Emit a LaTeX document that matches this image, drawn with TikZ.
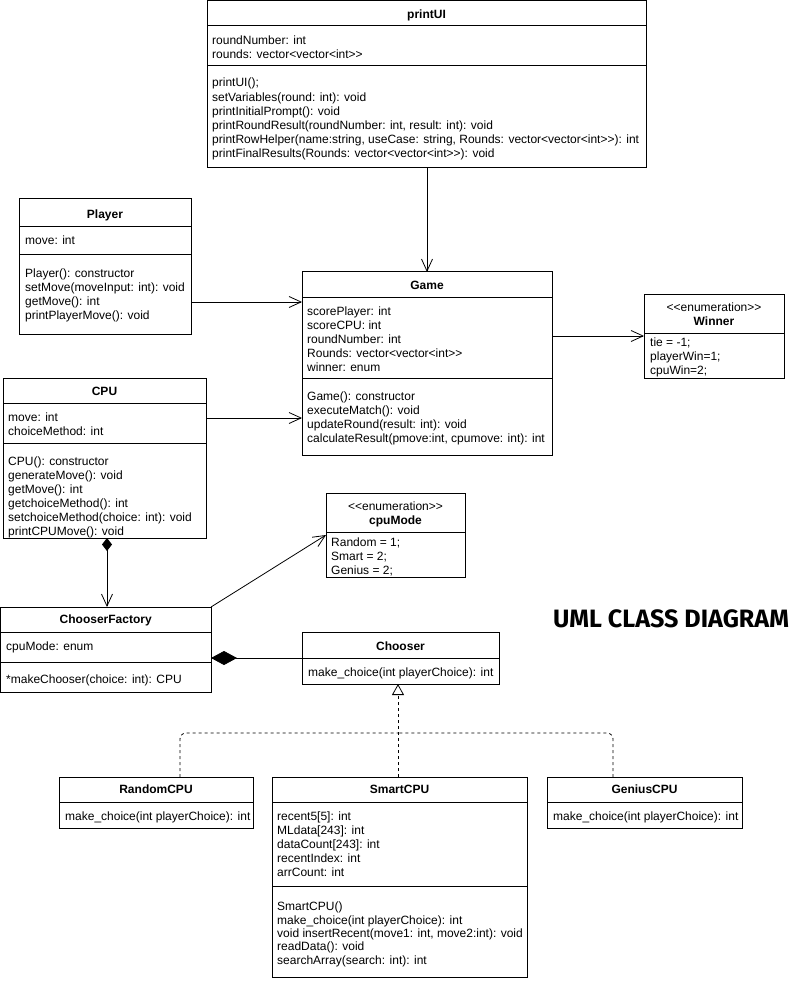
\documentclass[tikz,border=0pt]{standalone}
\usepackage{fontspec}
\setmainfont{Liberation Sans}
\newfontfamily\bannerfont{Fira Sans}
\usetikzlibrary{arrows.meta}
\newcommand\fl{\rule{0pt}{10pt}}
\newcommand\ltlt{<\kern0pt<}
\newcommand\gtgt{>\kern0pt>}
\tikzset{
  x=1pt, y=-1pt,
  box/.style={draw, line width=1pt, anchor=north west, inner sep=0pt, outer sep=0pt},
  ttl/.style={anchor=base, inner sep=0pt, font=\fontsize{12}{14}\selectfont\bfseries},
  ster/.style={anchor=base, inner sep=0pt, font=\fontsize{12}{14}\selectfont},
  lines/.style={anchor=north west, align=left, inner sep=0pt, font=\fontsize{12}{14.2}\selectfont},
  sepl/.style={line width=1pt},
  barb/.tip={Straight Barb[length=12pt,width=11pt,line width=0.8pt]},
  assoc/.style={line width=0.8pt, -barb},
  compsmall/.style={line width=0.8pt, {Diamond[length=13pt,width=10pt]}-barb},
  compbig/.style={line width=0.8pt, -{Diamond[length=26pt,width=14pt]}},
  dashline/.style={line width=0.8pt, dash pattern=on 3pt off 3pt, rounded corners=6pt},
  real/.style={line width=0.8pt, dash pattern=on 3pt off 3pt, -{Triangle[open,length=11pt,width=12pt,line width=0.8pt]}},
}
\begin{document}
\begin{tikzpicture}
\useasboundingbox (0,0) rectangle (794,981);
\fill[white] (0,0) rectangle (794,981);

% ---------- printUI ----------
\node[box, minimum width=439pt, minimum height=167pt] (printui) at (207,1) {};
\draw[sepl] (207,26) -- (646,26);
\draw[sepl] (207,66) -- (646,66);
\node[ttl] (printuiT) at (426.5,18.5) {printUI};
\node[lines] (printuiA) at (212,34.5) {\fl roundNumber: int\\rounds: vector<vector<int\gtgt};
\node[lines] (printuiM) at (212,76.8) {\fl printUI();\\setVariables(round: int): void\\printInitialPrompt(): void\\printRoundResult(roundNumber: int, result: int): void\\printRowHelper(name:string, useCase: string, Rounds: vector<vector<int\gtgt): int\\printFinalResults(Rounds: vector<vector<int\gtgt): void};

% ---------- Player ----------
\node[box, minimum width=172pt, minimum height=135pt] (player) at (19,199) {};
\draw[sepl] (19,227) -- (191,227);
\draw[sepl] (19,255) -- (191,255);
\node[ttl] (playerT) at (105,218.5) {Player};
\node[lines] (playerA) at (25,234.5) {\fl move: int};
\node[lines, font=\fontsize{12}{14}\selectfont] (playerM) at (25,267.5) {\fl Player(): constructor\\setMove(moveInput: int): void\\getMove(): int\\printPlayerMove(): void};

% ---------- CPU ----------
\node[box, minimum width=203pt, minimum height=160pt] (cpu) at (3,378) {};
\draw[sepl] (3,403) -- (206,403);
\draw[sepl] (3,443) -- (206,443);
\node[ttl] (cpuT) at (104.5,395.5) {CPU};
\node[lines, font=\fontsize{12}{14}\selectfont] (cpuA) at (8,411.2) {\fl move: int\\choiceMethod: int};
\node[lines, font=\fontsize{12}{13.95}\selectfont] (cpuM) at (8,455.5) {\fl CPU(): constructor\\generateMove(): void\\getMove(): int\\getchoiceMethod(): int\\setchoiceMethod(choice: int): void\\printCPUMove(): void};

% ---------- Game ----------
\node[box, minimum width=250pt, minimum height=183pt] (game) at (302,272) {};
\draw[sepl] (302,297) -- (552,297);
\draw[sepl] (302,378) -- (552,378);
\node[ttl] (gameT) at (427,289.5) {Game};
\node[lines, font=\fontsize{12}{14}\selectfont] (gameA) at (307,305.5) {\fl scorePlayer: int\\scoreCPU: int\\roundNumber: int\\Rounds: vector<vector<int\gtgt\\winner: enum};
\node[lines, font=\fontsize{12}{14}\selectfont] (gameM) at (307,390.5) {\fl Game(): constructor\\executeMatch(): void\\updateRound(result: int): void\\calculateResult(pmove:int, cpumove: int): int};

% ---------- Winner ----------
\node[box, minimum width=140pt, minimum height=84pt] (winner) at (644,294) {};
\draw[sepl] (644,333) -- (784,333);
\node[ster] (winnerS) at (714,311.5) {\ltlt enumeration\gtgt};
\node[ttl] (winnerT) at (714,325.5) {Winner};
\node[lines, font=\fontsize{12}{14}\selectfont] (winnerA) at (650,336.5) {\fl tie = -1;\\playerWin=1;\\cpuWin=2;};

% ---------- cpuMode ----------
\node[box, minimum width=139pt, minimum height=84pt] (cpumode) at (326,493) {};
\draw[sepl] (326,532) -- (465,532);
\node[ster] (cpumodeS) at (395.5,510.5) {\ltlt enumeration\gtgt};
\node[ttl] (cpumodeT) at (395.5,524.5) {cpuMode};
\node[lines, font=\fontsize{12}{14}\selectfont] (cpumodeA) at (331,536.5) {\fl Random = 1;\\Smart = 2;\\Genius = 2;};

% ---------- ChooserFactory ----------
\node[box, minimum width=210.5pt, minimum height=85pt] (cf) at (0.5,607) {};
\draw[sepl] (0.5,632) -- (211,632);
\draw[sepl] (0.5,662) -- (211,662);
\node[ttl] (cfT) at (105.75,623.5) {ChooserFactory};
\node[lines] (cfA) at (6,640.5) {\fl cpuMode: enum};
\node[lines] (cfM) at (6,673.5) {\fl *makeChooser(choice: int): CPU};

% ---------- Chooser ----------
\node[box, minimum width=197pt, minimum height=52pt] (chooser) at (302,632) {};
\draw[sepl] (302,658) -- (499,658);
\node[ttl] (chooserT) at (400.5,650.5) {Chooser};
\node[lines] (chooserM) at (308,666.5) {\fl make\_choice(int playerChoice): int};

% ---------- RandomCPU ----------
\node[box, minimum width=194pt, minimum height=51pt] (rnd) at (59,777) {};
\draw[sepl] (59,802) -- (253,802);
\node[ttl] (rndT) at (156,793.5) {RandomCPU};
\node[lines] (rndM) at (65,810.5) {\fl make\_choice(int playerChoice): int};

% ---------- SmartCPU ----------
\node[box, minimum width=255pt, minimum height=200pt] (smart) at (272,777) {};
\draw[sepl] (272,802) -- (527,802);
\draw[sepl] (272,886) -- (527,886);
\node[ttl] (smartT) at (399.5,793.5) {SmartCPU};
\node[lines, font=\fontsize{12}{13.9}\selectfont] (smartA) at (277,810.5) {\fl recent5[5]: int\\MLdata[243]: int\\dataCount[243]: int\\recentIndex: int\\arrCount: int};
\node[lines, font=\fontsize{12}{13.4}\selectfont] (smartM) at (277,900.5) {\fl SmartCPU()\\make\_choice(int playerChoice): int\\void insertRecent(move1: int, move2:int): void\\readData(): void\\searchArray(search: int): int};

% ---------- GeniusCPU ----------
\node[box, minimum width=195pt, minimum height=51pt] (gen) at (547,777) {};
\draw[sepl] (547,802) -- (742,802);
\node[ttl] (genT) at (644.5,793.5) {GeniusCPU};
\node[lines] (genM) at (553,810.5) {\fl make\_choice(int playerChoice): int};

% ---------- banner ----------
\node[inner sep=0pt] (banner) at (671,619) {\resizebox{236pt}{!}{\bannerfont\bfseries UML CLASS DIAGRAM}};

% ---------- connectors ----------
\coordinate (yPG) at (0,302);
\coordinate (yCG) at (0,418);
\coordinate (yGW) at (0,336);
\coordinate (xC) at (107,0);
\coordinate (xR) at (180,0);
\coordinate (xG) at (613,0);
\coordinate (split) at (398,733);

\draw[assoc] (printui.south -| game.north) -- (game.north);
\draw[assoc] (player.east |- yPG) -- (game.west |- yPG);
\draw[assoc] (cpu.east |- yCG) -- (game.west |- yCG);
\draw[assoc] (game.east |- yGW) -- (winner.west |- yGW);
\draw[assoc] (cf.north east) -- (cpumode.west);
\draw[compsmall] (cpu.south -| xC) -- (cf.north -| xC);
\draw[compbig] (chooser.west) -- (cf.east |- chooser.west);
\draw[real] (smart.north -| split) -- (chooser.south -| split);
\draw[dashline] (rnd.north -| xR) |- (split);
\draw[dashline] (gen.north -| xG) |- (split);
\end{tikzpicture}
\end{document}
